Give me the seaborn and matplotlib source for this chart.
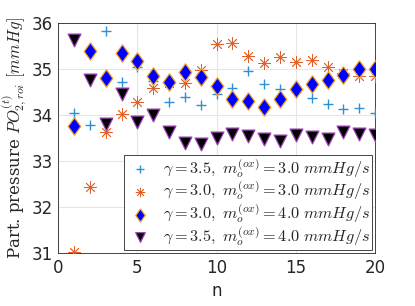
import matplotlib

matplotlib.use("Agg")
import matplotlib.pyplot as plt
import numpy as np
import seaborn as sns

n = np.arange(1, 21)

# gamma = 3.5, m = 3.0
po2_g35_m30 = [34.05, 33.78, 35.83, 34.72, 35.05, 34.74, 34.28, 34.40, 34.22, 34.45,
               34.58, 34.96, 34.67, 34.56, 34.49, 34.38, 34.23, 34.13, 34.15, 34.04]
# gamma = 3.0, m = 3.0
po2_g30_m30 = [31.02, 32.43, 33.63, 34.02, 34.29, 34.59, 34.70, 34.69, 34.98, 35.54,
               35.57, 35.28, 35.12, 35.25, 35.16, 35.20, 35.04, 34.91, 34.85, 34.85]
# gamma = 3.0, m = 4.0
po2_g30_m40 = [33.77, 35.38, 34.80, 35.34, 35.17, 34.85, 34.71, 34.94, 34.83, 34.62,
               34.35, 34.30, 34.18, 34.34, 34.56, 34.67, 34.76, 34.87, 34.99, 34.99]
# gamma = 3.5, m = 4.0
po2_g35_m40 = [35.62, 34.76, 33.80, 34.46, 33.84, 34.00, 33.62, 33.40, 33.37, 33.49,
               33.58, 33.54, 33.48, 33.44, 33.57, 33.52, 33.47, 33.62, 33.59, 33.57]

labels = [
    r"$\gamma = 3.5,\ m_o^{(ox)} = 3.0\ mmHg/s$",
    r"$\gamma = 3.0,\ m_o^{(ox)} = 3.0\ mmHg/s$",
    r"$\gamma = 3.0,\ m_o^{(ox)} = 4.0\ mmHg/s$",
    r"$\gamma = 3.5,\ m_o^{(ox)} = 4.0\ mmHg/s$",
]

sns.set_theme(style="whitegrid")
plt.rcParams["font.family"] = ["DejaVu Sans"]
plt.rcParams["mathtext.fontset"] = "cm"

# matlab-like diamond: a bit taller than wide
diamond = [(0, 1), (0.72, 0), (0, -1), (-0.72, 0), (0, 1)]

fig = plt.figure(figsize=(4.15, 3.06), dpi=100)
ax = fig.add_axes([0.14, 0.173, 0.764, 0.752])

sns.scatterplot(x=n, y=po2_g35_m30, marker="+", s=60, color="#2d8fd5",
                linewidth=1.0, label=labels[0], ax=ax, zorder=3)
sns.scatterplot(x=n, y=po2_g30_m30, marker=(8, 2, 0), s=70, color="#e0602a",
                linewidth=0.6, label=labels[1], ax=ax, zorder=3)
sns.scatterplot(x=n, y=po2_g30_m40, marker=diamond, s=160, color="#0000ff",
                edgecolor="#f5a623", linewidth=0.9, label=labels[2], ax=ax, zorder=3)
sns.scatterplot(x=n, y=po2_g35_m40, marker="v", s=85, color="black",
                edgecolor="#9b3fb5", linewidth=0.9, label=labels[3], ax=ax, zorder=3)

ax.set_xlim(0, 20)
ax.set_ylim(31, 36)
ax.set_xticks([0, 5, 10, 15, 20])
ax.set_yticks([31, 32, 33, 34, 35, 36])
ax.tick_params(axis="both", labelsize=12, direction="in", length=3,
               colors="#262626", pad=4)
ax.set_xlabel("n", fontsize=12, color="#262626")
ax.set_ylabel(r"Part. pressure $PO_{2,roi}^{(t)}$ $[mmHg]$", fontsize=12,
              color="#262626", labelpad=2)
ax.yaxis.label.set_family(["DejaVu Serif"])

ax.grid(True, color="#e6e6e6", linewidth=0.8)
ax.set_facecolor("white")
for side in ["left", "right", "top", "bottom"]:
    ax.spines[side].set_visible(True)
    ax.spines[side].set_color("#262626")
    ax.spines[side].set_linewidth(0.6)

leg = ax.legend(loc="lower right", fontsize=11.7, frameon=True, fancybox=False,
                borderpad=0.12, labelspacing=0.0, handletextpad=0.55,
                handlelength=1.7, borderaxespad=0.2, edgecolor="#262626",
                framealpha=1.0, markerscale=0.75)
leg.get_frame().set_linewidth(0.6)

fig.savefig("out.png", dpi=100)
plt.close(fig)
